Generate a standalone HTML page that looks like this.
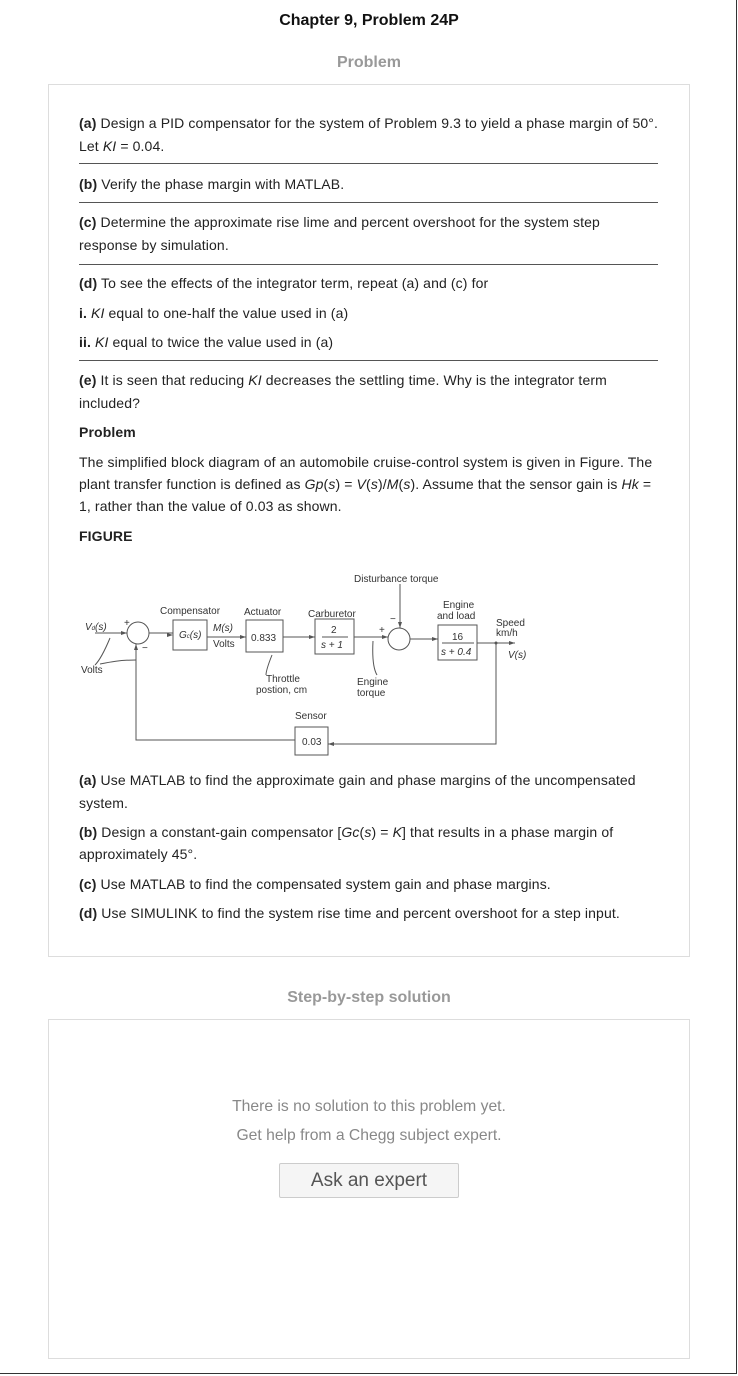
<!DOCTYPE html>
<html><head><meta charset="utf-8"><style>
body{margin:0;width:738px;height:1376px;background:#fff;position:relative;font-family:"Liberation Sans",sans-serif;overflow:hidden}
.t{position:absolute;font-size:14px;letter-spacing:0.12px;color:#222;white-space:nowrap}
.hr{position:absolute;left:79px;width:579px;height:1px;background:#555}
.box{position:absolute;border:1px solid #ddd;background:#fff}
</style></head><body>
<div style="position:absolute;left:0;top:0;width:736px;height:1373px;border-right:1px solid #333;border-bottom:1px solid #333"></div>
<div class="t" style="left:0;width:738px;text-align:center;top:12px;font-size:16px;letter-spacing:0;font-weight:bold;color:#111">Chapter 9, Problem 24P</div>
<div class="t" style="left:0;width:738px;text-align:center;top:54px;font-size:16px;letter-spacing:0;font-weight:bold;color:#999">Problem</div>
<div class="box" style="left:48px;top:84px;width:640px;height:871px"></div>
<div class="t" style="left:79px;top:115px"><b>(a)</b> Design a PID compensator for the system of Problem 9.3 to yield a phase margin of 50°.</div>
<div class="t" style="left:79px;top:138px">Let <i>KI</i> = 0.04.</div>
<div class="hr" style="top:163px"></div>
<div class="t" style="left:79px;top:176px"><b>(b)</b> Verify the phase margin with MATLAB.</div>
<div class="hr" style="top:202px"></div>
<div class="t" style="left:79px;top:214px"><b>(c)</b> Determine the approximate rise lime and percent overshoot for the system step</div>
<div class="t" style="left:79px;top:237px">response by simulation.</div>
<div class="hr" style="top:264px"></div>
<div class="t" style="left:79px;top:275px"><b>(d)</b> To see the effects of the integrator term, repeat (a) and (c) for</div>
<div class="t" style="left:79px;top:305px"><b>i.</b> <i>KI</i> equal to one-half the value used in (a)</div>
<div class="t" style="left:79px;top:334px"><b>ii.</b> <i>KI</i> equal to twice the value used in (a)</div>
<div class="hr" style="top:360px"></div>
<div class="t" style="left:79px;top:372px"><b>(e)</b> It is seen that reducing <i>KI</i> decreases the settling time. Why is the integrator term</div>
<div class="t" style="left:79px;top:395px">included?</div>
<div class="t" style="left:79px;top:424px;font-weight:bold">Problem</div>
<div class="t" style="left:79px;top:454px">The simplified block diagram of an automobile cruise-control system is given in Figure. The</div>
<div class="t" style="left:79px;top:476px">plant transfer function is defined as <i>Gp</i>(<i>s</i>) = <i>V</i>(<i>s</i>)/<i>M</i>(<i>s</i>). Assume that the sensor gain is <i>Hk</i> =</div>
<div class="t" style="left:79px;top:498px">1, rather than the value of 0.03 as shown.</div>
<div class="t" style="left:79px;top:528px;font-weight:bold">FIGURE</div>
<svg style="position:absolute;left:0;top:560px" width="738" height="200" viewBox="0 560 738 200" font-family="Liberation Sans,sans-serif" font-size="10" fill="#333">
<g stroke="#555" fill="none" stroke-width="1">
<circle cx="138" cy="633" r="11"/><circle cx="399" cy="639" r="11"/>
<rect x="173" y="620" width="34" height="30"/><rect x="246" y="620" width="37" height="32"/>
<rect x="315" y="619" width="39" height="35"/><rect x="438" y="625" width="39" height="35"/>
<rect x="295" y="727" width="33" height="28"/>
<path d="M95 633H127M149 633H173M207 637H246M283 637H315M354 637H388M410 639H438M477 643H515M496 643V744H328M295 740H136V644M400 584V628"/>
<path d="M110 638C105 650 100 660 95 665M136 660C120 660 110 662 100 664M272 655C268 665 266 672 266 675M373 641C372 660 374 670 377 675"/>
</g>
<g fill="#555"><path d="M127 633l-6-2v4z M173 635l-6-2v4z M246 637l-6-2v4z M315 637l-6-2v4z M388 637l-6-2v4z M438 639l-6-2v4z M515 643l-6-2v4z M328 744l6-2v4z M136 644l-2 6h4z M400 628l-2-6h4z"/><circle cx="496" cy="643" r="1.5"/></g>
<text x="354" y="582">Disturbance torque</text>
<text x="160" y="614">Compensator</text><text x="244" y="615">Actuator</text><text x="308" y="617">Carburetor</text>
<text x="443" y="608">Engine</text><text x="437" y="619">and load</text>
<text x="85" y="630" font-style="italic">V<tspan font-size="6">d</tspan>(s)</text><text x="124" y="626">+</text><text x="142" y="651">−</text>
<text x="179" y="638" font-style="italic">G<tspan font-size="6">c</tspan>(s)</text><text x="213" y="631" font-style="italic">M(s)</text><text x="213" y="647">Volts</text>
<text x="251" y="641">0.833</text><text x="331" y="633">2</text><line x1="322" y1="637" x2="348" y2="637" stroke="#555"/><text x="321" y="648" font-style="italic">s + 1</text>
<text x="379" y="633">+</text><text x="390" y="622">−</text>
<text x="452" y="640">16</text><line x1="442" y1="643" x2="474" y2="643" stroke="#555"/><text x="441" y="655" font-style="italic">s + 0.4</text>
<text x="496" y="626">Speed</text><text x="496" y="636">km/h</text><text x="508" y="658" font-style="italic">V(s)</text>
<text x="81" y="673">Volts</text><text x="266" y="682">Throttle</text><text x="256" y="693">postion, cm</text>
<text x="357" y="685">Engine</text><text x="357" y="696">torque</text>
<text x="295" y="719">Sensor</text><text x="302" y="745">0.03</text>
</svg>
<div class="t" style="left:79px;top:772px"><b>(a)</b> Use MATLAB to find the approximate gain and phase margins of the uncompensated</div>
<div class="t" style="left:79px;top:795px">system.</div>
<div class="t" style="left:79px;top:824px"><b>(b)</b> Design a constant-gain compensator [<i>Gc</i>(<i>s</i>) = <i>K</i>] that results in a phase margin of</div>
<div class="t" style="left:79px;top:846px">approximately 45°.</div>
<div class="t" style="left:79px;top:876px"><b>(c)</b> Use MATLAB to find the compensated system gain and phase margins.</div>
<div class="t" style="left:79px;top:905px"><b>(d)</b> Use SIMULINK to find the system rise time and percent overshoot for a step input.</div>
<div class="t" style="left:0;width:738px;text-align:center;top:989px;font-size:16px;letter-spacing:0;font-weight:bold;color:#999">Step-by-step solution</div>
<div class="box" style="left:48px;top:1019px;width:640px;height:338px"></div>
<div class="t" style="left:0;width:738px;text-align:center;top:1098px;font-size:15.7px;letter-spacing:0;color:#888">There is no solution to this problem yet.</div>
<div class="t" style="left:0;width:738px;text-align:center;top:1127px;font-size:15.7px;letter-spacing:0;color:#888">Get help from a Chegg subject expert.</div>
<div style="position:absolute;left:279px;top:1163px;width:178px;height:33px;border:1px solid #ccc;background:#f5f5f5;border-radius:2px;text-align:center;line-height:33px;font-size:19px;color:#555">Ask an expert</div>
</body></html>
